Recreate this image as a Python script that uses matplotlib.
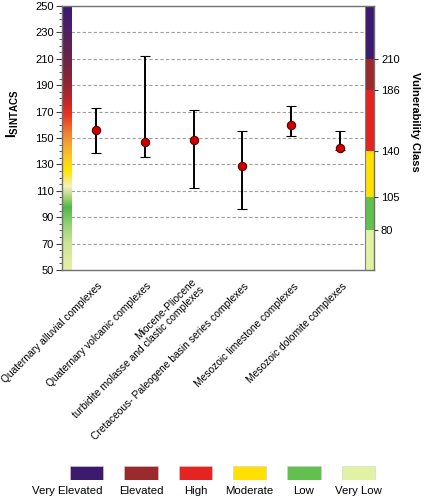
import numpy as np
import matplotlib
matplotlib.use("Agg")
import matplotlib.pyplot as plt
from matplotlib.colors import LinearSegmentedColormap
from matplotlib.transforms import ScaledTranslation

plt.rcParams['font.family'] = ['Liberation Sans', 'DejaVu Sans']
plt.rcParams['mathtext.fontset'] = 'custom'
plt.rcParams['mathtext.rm'] = 'Liberation Sans'
plt.rcParams['mathtext.bf'] = 'Liberation Sans:bold'

# complexes and their SINTACS index (mean, min, max)
categories = ["Quaternary alluvial complexes",
              "Quaternary volcanic complexes",
              "Miocene-Pliocene\nturbidite molasse and clastic complexes",
              "Cretaceous- Paleogene basin series complexes",
              "Mesozoic limestone complexes",
              "Mesozoic dolomite complexes"]
mean_vals = [156, 147, 148.5, 128.5, 160, 142.5]
min_vals = [139, 135.5, 112.5, 96.5, 151.5, 141]
max_vals = [172.5, 212.5, 171, 155.5, 174.5, 155.5]

# vulnerability classes (right strip + legend)
class_names = ["Very Elevated", "Elevated", "High", "Moderate", "Low", "Very Low"]
class_colors = ["#3c1a6e", "#9b2a2c", "#e42420", "#ffe000", "#62c04e", "#e2f2a4"]
class_bounds = [250, 210, 186, 140, 105, 80, 50]

# gradient of the left strip
grad_vals = [50, 70, 85, 97, 105, 113, 125, 135, 145, 155, 168, 178, 192, 212, 232, 250]
grad_cols = ["#e8f0a8", "#cce496", "#90d070", "#52b84a", "#a8d478", "#f6f0c4",
             "#ffe600", "#f8cc22", "#f6a432", "#f07a30", "#e83222", "#c42628",
             "#8e2632", "#6a2348", "#4e2064", "#3e1a72"]

fig = plt.figure(figsize=(4.24, 5.0), dpi=100)
ax = fig.add_axes([62 / 424, 1 - 270 / 500, 312 / 424, 264 / 500])

x = np.arange(len(categories))
xl, xr = -0.684, 5.684
ax.set_xlim(xl, xr)
ax.set_ylim(50, 250)

# left gradient strip
pos = [(v - 50) / 200 for v in grad_vals]
cmap = LinearSegmentedColormap.from_list("sintacs", list(zip(pos, grad_cols)))
grad = np.linspace(50, 250, 400).reshape(-1, 1)
ax.imshow(grad, cmap=cmap, origin="lower", aspect="auto",
          extent=[xl, -0.5, 50, 250], zorder=1)

# right class strip
lows = class_bounds[1:]
highs = class_bounds[:-1]
ax.bar([5.592] * len(class_names), np.subtract(highs, lows), bottom=lows,
       width=0.184, color=class_colors, zorder=1)
ax.axvline(5.5, color="#808080", lw=0.8, zorder=2)

# grid
ax.hlines(np.arange(70, 250, 20), -0.5, 5.5, colors="#a0a0a0",
          linestyles=(0, (3, 2)), lw=0.8, zorder=0)

# error bars
yerr = [np.subtract(mean_vals, min_vals), np.subtract(max_vals, mean_vals)]
eb = ax.errorbar(x, mean_vals, yerr=yerr, fmt="o", color="black", ecolor="black",
                 elinewidth=1.4, capsize=3.4, capthick=2, markersize=6,
                 markerfacecolor="#cc0000", markeredgecolor="#5a0000",
                 markeredgewidth=0.8, zorder=4)
for cl in eb[1]:
    cl.set_color("#d81818")
    cl.set_zorder(3)

for s in ax.spines.values():
    s.set_color("#707070")
    s.set_linewidth(1)

ax.set_yticks(np.arange(50, 251, 20))
ax.set_yticks(np.arange(50, 251, 5), minor=True)
ax.tick_params(axis="y", which="major", length=4, labelsize=8, color="#404040", pad=2)
ax.tick_params(axis="y", which="minor", length=2, color="#404040")
ax.set_xticks(x)
ax.set_xticklabels(categories, rotation=45, ha="right", va="center",
                   rotation_mode="anchor", fontsize=7.4, multialignment="right")
ax.tick_params(axis="x", length=0, pad=10.5)
shift = ScaledTranslation(5 / 100, 0, fig.dpi_scale_trans)
for lbl in ax.get_xticklabels():
    lbl.set_transform(lbl.get_transform() + shift)

ax.set_ylabel(r"$\mathbf{I}_{\mathbf{SINTACS}}$", fontsize=10)
ax.yaxis.set_label_coords(-0.133, 0.59)

ax2 = ax.twinx()
ax2.set_ylim(50, 250)
ax2.set_yticks(class_bounds[1:-1])
ax2.tick_params(axis="y", length=3, labelsize=8, color="#404040", pad=2)
for s in ax2.spines.values():
    s.set_visible(False)
ax2.set_ylabel("Vulnerability Class", rotation=270, fontsize=8,
               fontweight="bold", va="center")
ax2.yaxis.set_label_coords(1.131, 0.5625)

# legend at the bottom
lax = fig.add_axes([59.5 / 424, 20 / 500, 326 / 424, 14 / 500])
lax.set_xlim(-0.5, 5.5)
lax.set_ylim(0, 1)
lax.bar(np.arange(len(class_names)), [1] * len(class_names), width=0.61,
        color=class_colors, edgecolor="#d0d0d0", linewidth=0.4)
for i, name in enumerate(class_names):
    if i == 0:
        lax.text(i + 0.3, -0.42, name, ha="right", va="top", fontsize=8.2)
    else:
        lax.text(i, -0.42, name, ha="center", va="top", fontsize=8.2)
lax.axis("off")

fig.savefig("out.png", dpi=100)
